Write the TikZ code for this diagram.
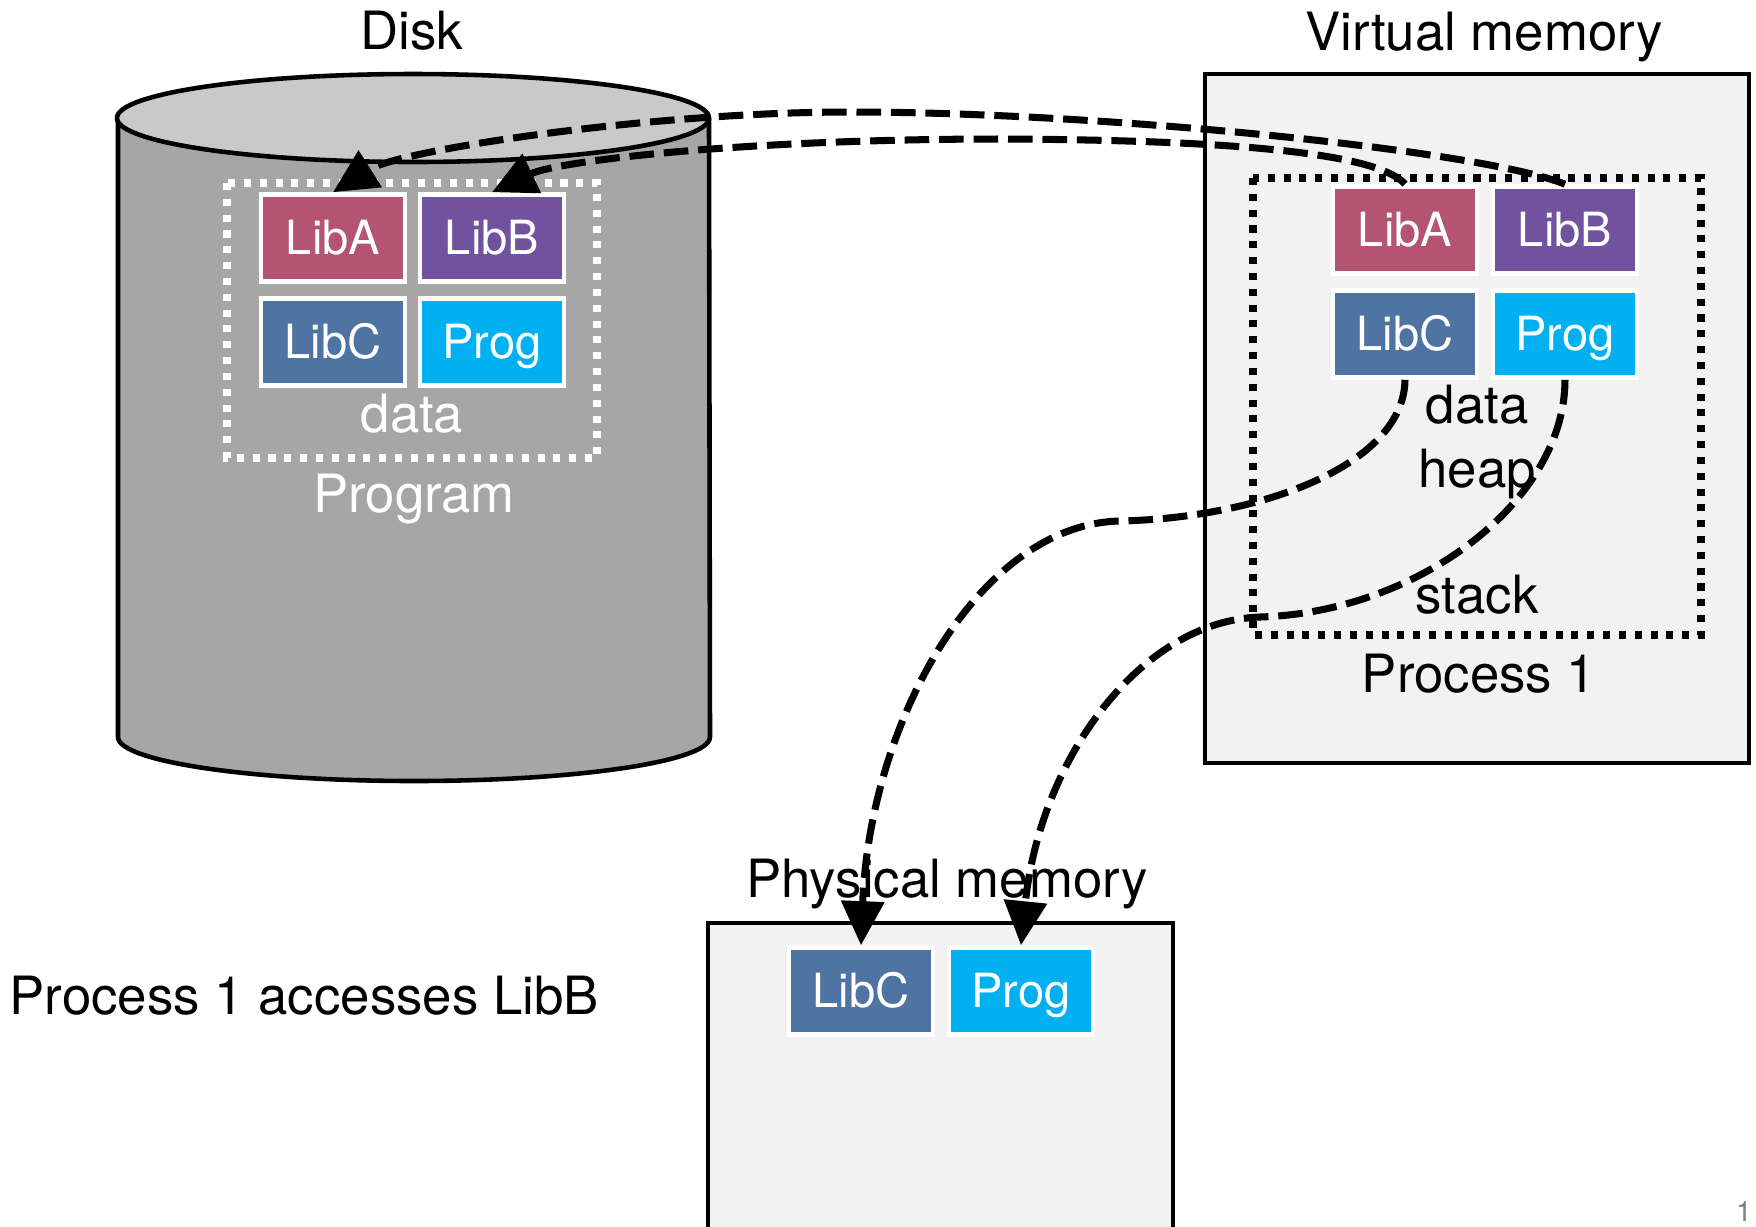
\documentclass[tikz,border=0pt]{standalone}
\usepackage{fontspec}
\setmainfont{TeX Gyre Heros}
\usetikzlibrary{arrows.meta, positioning}
\definecolor{libA}{HTML}{B45472}
\definecolor{libB}{HTML}{71529F}
\definecolor{libC}{HTML}{4F74A3}
\definecolor{prog}{HTML}{00B0F0}
\definecolor{diskbody}{HTML}{A6A6A6}
\definecolor{disktop}{HTML}{C9C9C9}
\definecolor{memfill}{HTML}{F2F2F2}
\tikzset{
lib/.style={draw=white,line width=1.3pt,minimum width=1.44cm,minimum height=0.87cm,
 inner sep=0pt,text height=9.6pt,text depth=0pt,text=white,font=\fontsize{13.4}{16}\selectfont},
lbl/.style={font=\fontsize{15}{18}\selectfont,anchor=base,inner sep=0pt},
map/.style={line width=2pt,dash pattern=on 7pt off 2.8pt,
 -{Triangle[length=0.44cm,width=0.42cm]}},
seg/.style={line width=2pt,dash pattern=on 2pt off 2.5pt},
frame/.style={line width=1.3pt,fill=memfill}
}

\begin{document}
\begin{tikzpicture}[x=0.01cm,y=-0.01cm]
	\useasboundingbox (0,0) rectangle (1756,1226);
	% disk
	\draw[line width=1.3pt,fill=diskbody] (118,118) -- (118,737)
	arc[start angle=180,end angle=0,x radius=296,y radius=44] -- (709,118);
	\draw[line width=1.3pt,fill=disktop] (413,118) ellipse[x radius=296,y radius=44];
	\draw[seg,white] (227,183) rectangle (597,458);
	\node[lbl] (disk) at (412,49) {Disk};
	\node[lbl,white] (ddata) at (412,432) {data};
	\node[lbl,white] (dprogram) at (414,512) {Program};
	\node[lib,fill=libA] (dliba) at (333,238) {LibA};
	\node[lib,fill=libB] (dlibb) at (492,238) {LibB};
	\node[lib,fill=libC] (dlibc) at (333,342) {LibC};
	\node[lib,fill=prog] (dprog) at (492,342) {Prog};
	% virtual memory
	\draw[frame] (1205,74) rectangle (1749,763);
	\draw[seg] (1253,178) rectangle (1701,635);
	\node[lbl] (virt) at (1484,50) {Virtual memory};
	\node[lib,fill=libA] (vliba) at (1405,230) {LibA};
	\node[lib,fill=libB] (vlibb) at (1565,230) {LibB};
	\node[lib,fill=libC] (vlibc) at (1405,334) {LibC};
	\node[lib,fill=prog] (vprog) at (1565,334) {Prog};
	\node[lbl] (vdata) at (1477,423) {data};
	\node[lbl] (vheap) at (1477,487) {heap};
	\node[lbl] (vstack) at (1477,613) {stack};
	\node[lbl] (proc) at (1479,692) {Process 1};
	% physical memory
	\draw[frame] (708,1240) |- (1173,923) -- (1173,1240);
	\node[lbl] (phys) at (947,897) {Physical memory};
	\node[lib,fill=libC] (plibc) at (861,991) {LibC};
	\node[lib,fill=prog] (pprog) at (1021,991) {Prog};
	\node[lbl,anchor=base west] (note) at (9,1014) {Process 1 accesses LibB};
	\node[anchor=south east,inner sep=1pt,text=gray,font=\fontsize{8}{10}\selectfont] (pg) at (1756,1226) {1};
	% mappings
	\draw[map] (vliba.north) .. controls (1380,155) and (1250,140) .. (1000,139)
	.. controls (750,139) and (560,160) .. (dlibb.north);
	\draw[map] (vlibb.north) .. controls (1480,150) and (1100,112) .. (850,112)
	.. controls (650,112) and (400,150) .. (dliba.north);
	\draw[map] (vlibc.south) .. controls (1404,465) and (1260,518) .. (1120,521)
	.. controls (980,524) and (870,720) .. (plibc.north);
	\draw[map] (vprog.south) .. controls (1565,500) and (1420,612) .. (1260,617)
	.. controls (1140,621) and (1040,760) .. (pprog.north);
\end{tikzpicture}
\end{document}
